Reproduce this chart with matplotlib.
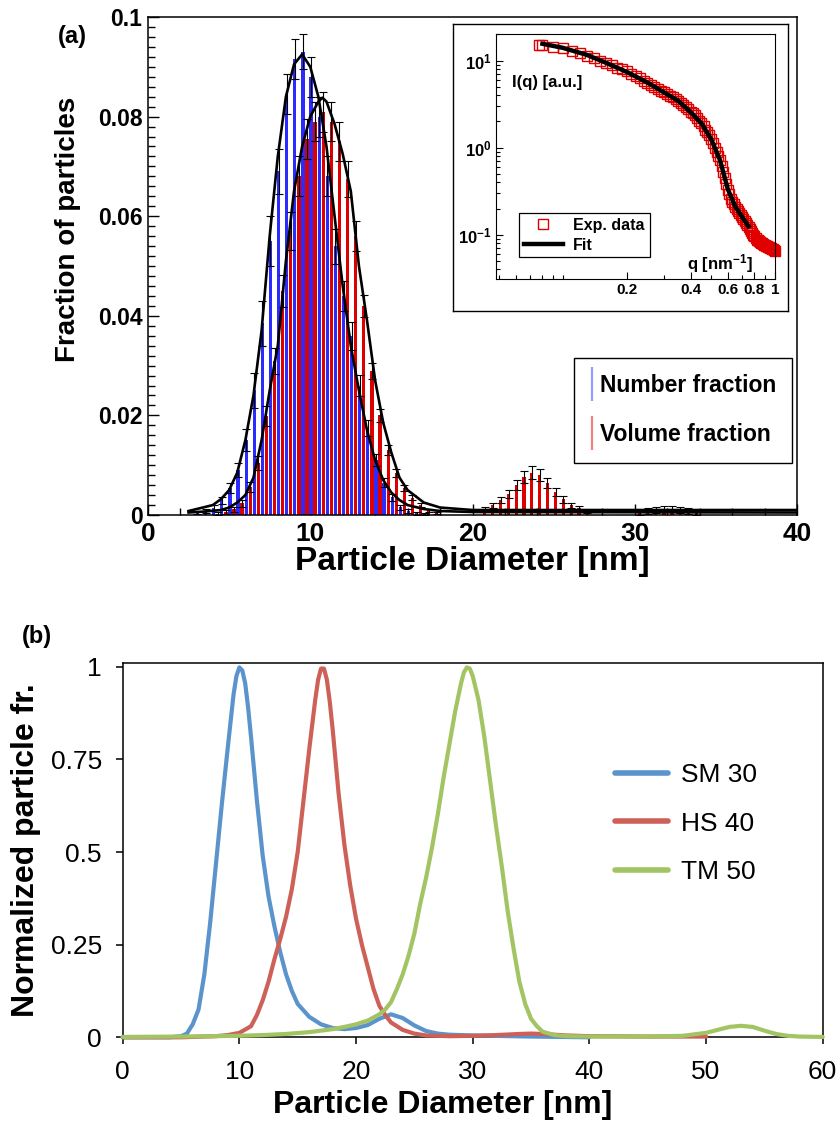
import numpy as np
import matplotlib
matplotlib.use('Agg')
import matplotlib.pyplot as plt
from matplotlib import font_manager
from matplotlib.lines import Line2D
from matplotlib.ticker import MultipleLocator, LogLocator, NullFormatter, FixedLocator

# ---------- data: panel (a) histogram ----------
num_pos = np.arange(3.05, 17.1, 0.5)
num_frac = [0.0005, 0.0008, 0.0015, 0.0030, 0.0055, 0.0090, 0.0150, 0.0250, 0.0385, 0.0550,
            0.0690, 0.0845, 0.0915, 0.0930, 0.0880, 0.0800, 0.0680, 0.0540, 0.0440, 0.0360,
            0.0260, 0.0175, 0.0110, 0.0065, 0.0036, 0.0016, 0.0008, 0.0004, 0.0002]
num_err = [0.0003, 0.0004, 0.0005, 0.0007, 0.0010, 0.0014, 0.0022, 0.0035, 0.0045, 0.0050,
           0.0045, 0.0040, 0.0040, 0.0035, 0.0040, 0.0040, 0.0040, 0.0035, 0.0030, 0.0028,
           0.0022, 0.0016, 0.0012, 0.0009, 0.0007, 0.0005, 0.0004, 0.0003, 0.0002]

vol_pos = list(np.arange(4.3, 17.85, 0.5)) + \
    [20.75, 21.25, 21.73, 22.24, 22.72, 23.17, 23.64, 24.14, 24.61, 25.12, 25.6, 26.1, 26.56, 27.08] + \
    [30.3, 30.8, 31.3, 31.8, 32.3, 32.8, 33.3, 33.8]
vol_frac = [0.0003, 0.0006, 0.0012, 0.0024, 0.0057, 0.0104, 0.0198, 0.0310, 0.0450, 0.0570,
            0.0680, 0.0755, 0.0790, 0.0810, 0.0790, 0.0750, 0.0674, 0.0560, 0.0420, 0.0290,
            0.0200, 0.0130, 0.0085, 0.0055, 0.0035, 0.0020, 0.0010, 0.0005,
            0.0012, 0.0020, 0.0030, 0.0042, 0.0060, 0.0077, 0.0085, 0.0080, 0.0065, 0.0047,
            0.0032, 0.0020, 0.0014, 0.0008,
            0.0006, 0.0009, 0.0011, 0.0012, 0.0012, 0.0011, 0.0009, 0.0006]
vol_err = [0.0003, 0.0004, 0.0005, 0.0007, 0.0010, 0.0014, 0.0020, 0.0026, 0.0032, 0.0038,
           0.0040, 0.0040, 0.0040, 0.0040, 0.0040, 0.0040, 0.0036, 0.0030, 0.0022, 0.0016,
           0.0013, 0.0010, 0.0008, 0.0006, 0.0005, 0.0004, 0.0003, 0.0002,
           0.0004, 0.0005, 0.0006, 0.0008, 0.0010, 0.0012, 0.0013, 0.0012, 0.0010, 0.0008,
           0.0007, 0.0005, 0.0004, 0.0003,
           0.0005, 0.0006, 0.0006, 0.0006, 0.0006, 0.0006, 0.0006, 0.0005]

num_fit_x = [2.5, 3, 3.5, 4, 4.5, 5, 5.5, 6, 6.5, 7, 7.5, 8, 8.5, 9, 9.5, 10, 10.5, 11, 11.5, 12,
             12.5, 13, 13.5, 14, 14.5, 15, 15.5, 16, 17, 18, 20, 40]
num_fit_y = [0.0008, 0.0012, 0.0016, 0.0020, 0.0032, 0.0050, 0.0085, 0.0150, 0.0240, 0.0370,
             0.0560, 0.0720, 0.0840, 0.0905, 0.0925, 0.0900, 0.0840, 0.0740, 0.0600, 0.0460,
             0.0340, 0.0250, 0.0170, 0.0110, 0.0070, 0.0045, 0.0030, 0.0020, 0.0012, 0.0008,
             0.0006, 0.0005]
vol_fit_x = [2.5, 3.5, 4.5, 5, 5.5, 6, 6.5, 7, 7.5, 8, 8.5, 9, 9.5, 10, 10.5, 10.75, 11, 11.5, 12, 12.5,
             13, 13.5, 14, 14.5, 15, 15.5, 16, 17, 18, 20, 40]
vol_fit_y = [0.0005, 0.0007, 0.0010, 0.0015, 0.0025, 0.0040, 0.0075, 0.0150, 0.0250, 0.0340,
             0.0510, 0.0650, 0.0740, 0.0800, 0.0830, 0.0838, 0.0830, 0.0785, 0.0725, 0.0650,
             0.0500, 0.0390, 0.0270, 0.0185, 0.0125, 0.0075, 0.0050, 0.0025, 0.0015, 0.0010,
             0.0010]

# ---------- data: inset SAXS ----------
q_exp = [0.077, 0.08, 0.09, 0.10, 0.11, 0.12, 0.13, 0.14, 0.15, 0.16, 0.17, 0.18, 0.19,
         0.20, 0.21, 0.22, 0.23, 0.24, 0.25, 0.26, 0.27, 0.28, 0.29, 0.30, 0.31, 0.32, 0.33,
         0.34, 0.35, 0.36, 0.37, 0.38, 0.39, 0.40, 0.41, 0.42, 0.43, 0.44, 0.45, 0.46, 0.47,
         0.48, 0.49, 0.50, 0.51, 0.52, 0.53, 0.54, 0.55, 0.56, 0.57, 0.58, 0.59, 0.60, 0.61,
         0.62, 0.63, 0.64, 0.65, 0.66, 0.67, 0.68, 0.69, 0.70, 0.71, 0.72, 0.73, 0.74, 0.75,
         0.76, 0.77, 0.78, 0.79, 0.80, 0.81, 0.82, 0.83, 0.84, 0.85, 0.86, 0.87, 0.88, 0.89,
         0.90, 0.91, 0.92, 0.93, 0.94, 0.95, 0.96, 0.97, 0.98, 0.99, 1.00]
i_exp = [15.2, 15.1, 14.5, 13.8, 12.9, 12.2, 11.4, 10.7, 10.0, 9.4, 8.8, 8.3, 7.9,
         7.5, 7.1, 6.7, 6.3, 5.9, 5.6, 5.3, 5.0, 4.75, 4.5, 4.3, 4.1, 3.95, 3.85,
         3.6, 3.45, 3.25, 3.1, 2.95, 2.8, 2.6, 2.5, 2.35, 2.2, 2.05, 1.9, 1.75, 1.6,
         1.5, 1.38, 1.25, 1.12, 1.0, 0.9, 0.8, 0.72, 0.62, 0.53, 0.45, 0.38, 0.33, 0.29,
         0.26, 0.24, 0.225, 0.21, 0.195, 0.185, 0.178, 0.17, 0.16, 0.152, 0.145, 0.138, 0.13, 0.124,
         0.117, 0.111, 0.105, 0.100, 0.096, 0.092, 0.088, 0.086, 0.084, 0.083, 0.081, 0.080, 0.078, 0.077,
         0.076, 0.075, 0.074, 0.073, 0.072, 0.071, 0.070, 0.069, 0.068, 0.066, 0.065]
q_fit = [0.080, 0.10, 0.13, 0.16, 0.20, 0.25, 0.30, 0.35, 0.40, 0.45, 0.50, 0.55, 0.60, 0.65, 0.70, 0.75]
i_fit = [15.6, 14.0, 11.6, 9.4, 7.4, 5.6, 4.3, 3.45, 2.55, 1.9, 1.25, 0.72, 0.33, 0.21, 0.16, 0.125]

# ---------- data: panel (b) ----------
sm_x = [0, 2, 4, 5, 5.5, 6, 6.5, 7, 7.5, 8, 8.5, 9, 9.5, 9.75, 10, 10.25, 10.5, 10.75, 11, 11.5,
        12, 12.5, 13, 13.5, 14, 14.5, 15, 16, 17, 18, 19, 20, 21, 22, 23, 24, 25, 26, 27, 28,
        30, 35, 40]
sm_y = [0, 0, 0, 0.003, 0.010, 0.035, 0.075, 0.17, 0.31, 0.47, 0.63, 0.78, 0.925, 0.975, 0.998,
        0.99, 0.955, 0.89, 0.81, 0.64, 0.49, 0.38, 0.30, 0.23, 0.17, 0.125, 0.09, 0.055, 0.035,
        0.025, 0.022, 0.025, 0.033, 0.050, 0.062, 0.052, 0.032, 0.017, 0.010, 0.007, 0.005,
        0.002, 0.0]
hs_x = [0, 5, 8, 9, 10, 11, 11.5, 12, 12.5, 13, 13.5, 14, 14.5, 15, 15.5, 16, 16.5, 16.75, 17,
        17.25, 17.5, 17.75, 18, 18.5, 19, 19.5, 20, 20.5, 21, 21.5, 22, 22.5, 23, 24, 25, 26, 28,
        30, 32, 34, 35, 36, 38, 40, 45, 50]
hs_y = [0, 0, 0.003, 0.006, 0.012, 0.030, 0.060, 0.10, 0.15, 0.21, 0.265, 0.325, 0.40, 0.50,
        0.64, 0.78, 0.91, 0.965, 0.995, 0.995, 0.965, 0.905, 0.83, 0.66, 0.52, 0.41, 0.32, 0.25,
        0.19, 0.13, 0.085, 0.060, 0.040, 0.020, 0.010, 0.005, 0.003, 0.004, 0.006, 0.009, 0.010,
        0.009, 0.005, 0.003, 0.002, 0.002]
tm_x = [0, 5, 10, 12, 14, 16, 17, 18, 19, 20, 21, 22, 22.5, 23, 23.5, 24, 24.5, 25, 25.5, 26, 26.5,
        27, 27.5, 28, 28.5, 29, 29.25, 29.5, 29.75, 30, 30.5, 31, 31.5, 32, 32.5, 33, 33.5, 34,
        34.5, 35, 35.5, 36, 37, 38, 40, 45, 48, 50, 51, 52, 53, 54, 55, 56, 57, 58, 60]
tm_y = [0.001, 0.002, 0.004, 0.006, 0.009, 0.014, 0.018, 0.022, 0.028, 0.035, 0.045, 0.062, 0.075,
        0.095, 0.13, 0.17, 0.22, 0.28, 0.36, 0.43, 0.51, 0.60, 0.70, 0.79, 0.88, 0.955, 0.985,
        0.998, 0.995, 0.975, 0.91, 0.81, 0.69, 0.57, 0.46, 0.34, 0.24, 0.15, 0.09, 0.05, 0.03,
        0.015, 0.006, 0.003, 0.002, 0.002, 0.004, 0.012, 0.020, 0.028, 0.031, 0.028, 0.018,
        0.009, 0.004, 0.002, 0.001]

# ---------- fonts ----------
names = {f.name for f in font_manager.fontManager.ttflist}
narrow = 'Liberation Sans Narrow' in names
label_family = ['Liberation Sans Narrow', 'Liberation Sans'] if narrow else ['Liberation Sans']
xlab_size = 29 if narrow else 24
ylab_size = 24 if narrow else 20

plt.rcParams['font.family'] = ['Liberation Sans', 'DejaVu Sans']
plt.rcParams['mathtext.fontset'] = 'custom'
plt.rcParams['mathtext.rm'] = 'Liberation Sans:bold'
plt.rcParams['mathtext.it'] = 'Liberation Sans:bold'
plt.rcParams['mathtext.bf'] = 'Liberation Sans:bold'

fig = plt.figure(figsize=(8.4, 11.3), dpi=100)
W, H = 840.0, 1130.0

def box(l, t, r, b):
    return [l / W, 1 - b / H, (r - l) / W, (b - t) / H]

# ================= panel (a) =================
ax = fig.add_axes(box(148, 17, 797, 515))
ax.bar(num_pos, num_frac, width=0.2, color='#2b2bff', zorder=2)
ax.bar(vol_pos, vol_frac, width=0.2, color='#dd0000', zorder=2)
ax.errorbar(num_pos, num_frac, yerr=num_err, fmt='none', ecolor='black',
            elinewidth=0.8, capsize=3, capthick=0.8, zorder=3)
ax.errorbar(vol_pos, vol_frac, yerr=vol_err, fmt='none', ecolor='black',
            elinewidth=0.8, capsize=3, capthick=0.8, zorder=3)
ax.plot(num_fit_x, num_fit_y, color='black', lw=1.9, zorder=4)
ax.plot(vol_fit_x, vol_fit_y, color='black', lw=1.9, zorder=4)

ax.set_xlim(0, 40)
ax.set_ylim(0, 0.1)
ax.xaxis.set_major_locator(MultipleLocator(10))
ax.xaxis.set_minor_locator(MultipleLocator(2))
ax.yaxis.set_major_locator(MultipleLocator(0.02))
ax.yaxis.set_minor_locator(MultipleLocator(0.002))
ax.tick_params(which='both', direction='in', top=False, right=False, width=1)
ax.tick_params(which='major', length=8)
ax.tick_params(which='minor', length=5)
ax.tick_params(axis='y', pad=4)
ax.tick_params(axis='x', pad=5)
ax.set_yticks([0, 0.02, 0.04, 0.06, 0.08, 0.1])
ax.set_yticklabels(['0', '0.02', '0.04', '0.06', '0.08', '0.1'])
for t in ax.get_yticklabels():
    t.set_fontsize(16.5)
    t.set_fontweight('bold')
for t in ax.get_xticklabels():
    t.set_fontsize(19)
    t.set_fontweight('bold')
for s in ax.spines.values():
    s.set_linewidth(1.1)

ax.set_xlabel('Particle Diameter [nm]', fontsize=xlab_size, fontweight='bold',
              family=label_family, va='center')
ax.xaxis.set_label_coords(0.5, (515 - 562) / 498.0)
ax.set_ylabel('Fraction of particles', fontsize=ylab_size, fontweight='bold',
              family=label_family, va='center')
ax.yaxis.set_label_coords((68 - 148) / 649.0, (515 - 229) / 498.0)

handles = [Line2D([], [], ls='none', marker='|', markersize=25, mew=1.6, color='#9a9aff'),
           Line2D([], [], ls='none', marker='|', markersize=25, mew=1.6, color='#f08080')]
leg = ax.legend(handles, ['Number fraction', 'Volume fraction'], loc='upper left',
                bbox_to_anchor=(574 / W, 1 - 358 / H), bbox_transform=fig.transFigure,
                borderaxespad=0, borderpad=0.72, handlelength=0.1, handletextpad=0.3,
                labelspacing=1.12, fancybox=False, framealpha=1, edgecolor='black',
                prop={'size': 16.5, 'weight': 'bold'})
leg.get_frame().set_linewidth(1.0)

fig.text(72 / W, 1 - 37 / H, '(a)', fontsize=17, fontweight='bold', ha='center', va='center')

# ---------- inset frame + inset ----------
frame = fig.add_axes(box(453, 24, 788, 311))
frame.set_xticks([])
frame.set_yticks([])
for s in frame.spines.values():
    s.set_linewidth(1.0)

ins = fig.add_axes(box(496, 34, 775, 279))
ins.set_xscale('log')
ins.set_yscale('log')
ins.plot(q_exp, i_exp, ls='none', marker='s', markersize=6.5, mfc='none', mec='#e00000',
         mew=1.0, clip_on=False, label='Exp. data')
ins.plot(q_fit, i_fit, color='black', lw=3.2, label='Fit')
ins.set_xlim(0.0483, 1.0)
ins.set_ylim(0.031, 20.2)
ins.xaxis.set_major_locator(FixedLocator([0.2, 0.4, 0.6, 0.8, 1.0]))
ins.set_xticklabels(['0.2', '0.4', '0.6', '0.8', '1'])
ins.xaxis.set_minor_locator(LogLocator(base=10, subs=np.arange(1, 10)))
ins.xaxis.set_minor_formatter(NullFormatter())
ins.yaxis.set_major_locator(FixedLocator([0.1, 1, 10]))
ins.set_yticklabels([r'$10^{-1}$', r'$10^{0}$', r'$10^{1}$'])
ins.yaxis.set_minor_locator(LogLocator(base=10, subs=np.arange(2, 10)))
ins.yaxis.set_minor_formatter(NullFormatter())
ins.tick_params(which='both', direction='in', top=False, right=False, width=0.8)
ins.tick_params(which='major', length=5, pad=3)
ins.tick_params(which='minor', length=3)
for t in ins.get_xticklabels():
    t.set_fontsize(11)
    t.set_fontweight('bold')
for t in ins.get_yticklabels():
    t.set_fontsize(12)
    t.set_fontweight('bold')
ins.text(0.057, 0.804, 'I(q) [a.u.]', transform=ins.transAxes, fontsize=12,
         fontweight='bold', ha='left', va='center')
ins.text(0.921, 0.065, 'q [nm$^{-1}$]', transform=ins.transAxes, fontsize=12,
         fontweight='bold', ha='right', va='center')
ileg = ins.legend(loc='upper left', bbox_to_anchor=((519 - 496) / 279.0, (279 - 213) / 245.0),
                  borderaxespad=0, borderpad=0.3, handlelength=2.45, handletextpad=0.65,
                  labelspacing=0.3, numpoints=1, fancybox=False, framealpha=1,
                  edgecolor='black', prop={'size': 11.5, 'weight': 'bold'})
ileg.get_frame().set_linewidth(0.9)

# ================= panel (b) =================
bx = fig.add_axes(box(122.7, 662.7, 822.7, 1037.3))
bx.plot(sm_x, sm_y, color='#5B94CD', lw=3.0, label='SM 30', clip_on=False,
        solid_capstyle='round', solid_joinstyle='round', zorder=3)
bx.plot(hs_x, hs_y, color='#CD6158', lw=3.0, label='HS 40', clip_on=False,
        solid_capstyle='round', solid_joinstyle='round', zorder=3)
bx.plot(tm_x, tm_y, color='#A3C462', lw=3.0, label='TM 50', clip_on=False,
        solid_capstyle='round', solid_joinstyle='round', zorder=3)
bx.set_xlim(0, 60)
bx.set_ylim(0, 1.0108)
bx.set_xticks([0, 10, 20, 30, 40, 50, 60])
bx.set_yticks([0, 0.25, 0.5, 0.75, 1])
bx.set_yticklabels(['0', '0.25', '0.5', '0.75', '1'])
bx.tick_params(direction='out', length=5, width=1.1, labelsize=19)
bx.tick_params(axis='y', pad=10)
bx.tick_params(axis='x', pad=11)
for s in bx.spines.values():
    s.set_linewidth(1.1)
bx.set_xlabel('Particle Diameter [nm]', fontsize=23, fontweight='bold', va='center')
bx.xaxis.set_label_coords((443 - 122.7) / 700.0, (1037.3 - 1105) / 374.6)
bx.set_ylabel('Normalized particle fr.', fontsize=23, fontweight='bold', va='center')
bx.yaxis.set_label_coords((25.7 - 122.7) / 700.0, 0.5)
bleg = bx.legend(loc='upper left', bbox_to_anchor=((615 - 122.7) / 700.0, (1037.3 - 763) / 374.6),
                 borderaxespad=0, borderpad=0, handlelength=2.0, handletextpad=0.5,
                 labelspacing=0.93, frameon=False, fontsize=19)
for ln in bleg.get_lines():
    ln.set_linewidth(4)
    ln.set_solid_capstyle('round')

fig.text(37 / W, 1 - 636 / H, '(b)', fontsize=17, fontweight='bold', ha='center', va='center')

fig.savefig('out.png', dpi=100)
